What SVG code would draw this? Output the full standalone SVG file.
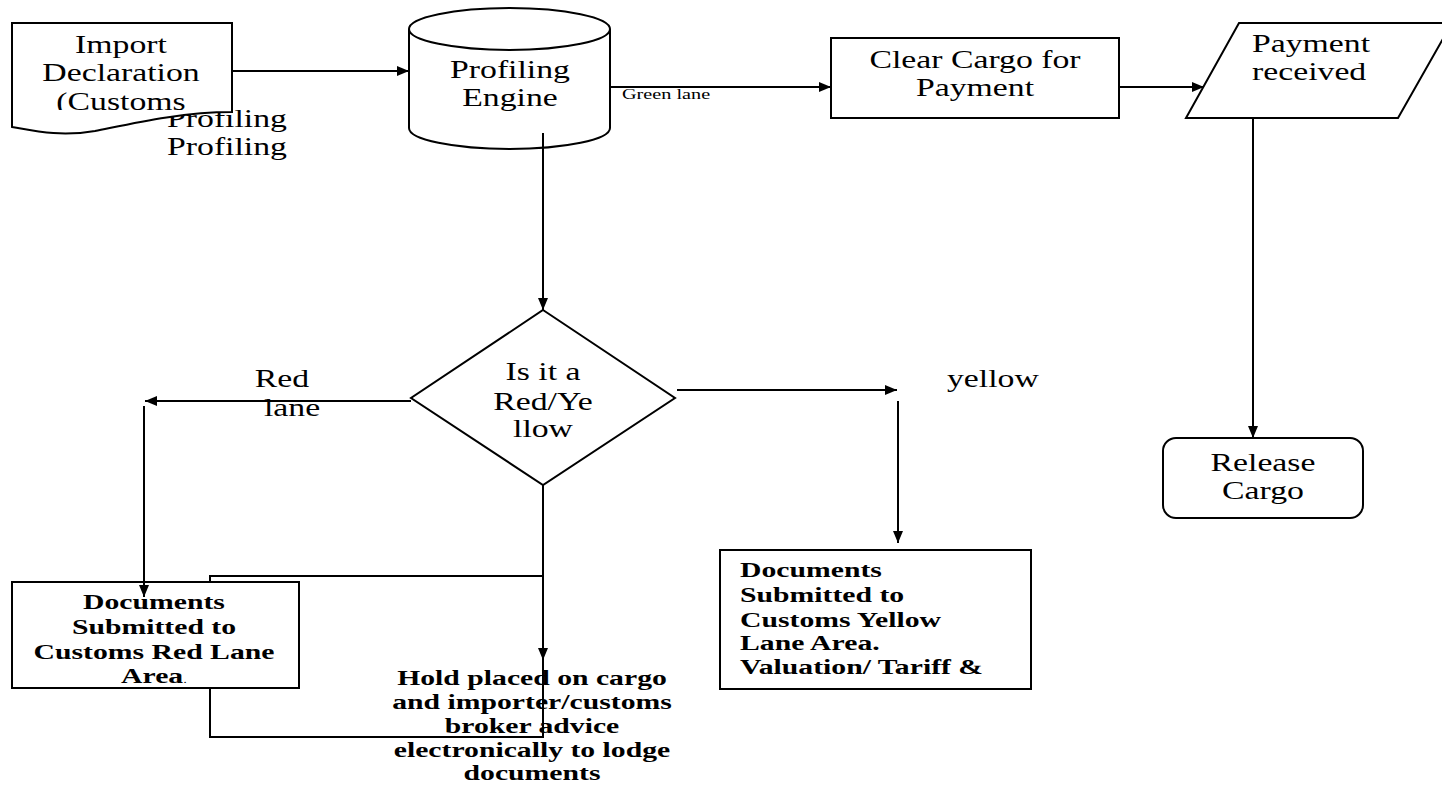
<svg xmlns="http://www.w3.org/2000/svg" width="1442" height="785" viewBox="0 0 1442 785">
<style>
.t{font-family:"Liberation Serif","Times New Roman",serif;font-size:25px;fill:#000}
.b{font-family:"Liberation Serif","Times New Roman",serif;font-size:22px;font-weight:bold;fill:#000}
.s{font-family:"Liberation Serif","Times New Roman",serif;font-size:15px;fill:#000}
.m{text-anchor:middle}
.shape{fill:#fff;stroke:#000;stroke-width:2}
.ln{fill:none;stroke:#000;stroke-width:2}
</style>
<defs>
<marker id="ah" markerUnits="userSpaceOnUse" markerWidth="13" markerHeight="11" refX="12" refY="5" orient="auto">
<path d="M0,0 L12,5 L0,10 Z" fill="#000"/>
</marker>
<clipPath id="docclip"><rect x="12" y="23" width="220" height="87"/></clipPath>
<clipPath id="redclip"><rect x="12" y="582" width="287" height="104"/></clipPath>
</defs>

<g id="free-labels">
<text class="t m" transform="translate(227,127) scale(1.35,1)">Profiling</text>
<text class="t m" transform="translate(227,155) scale(1.35,1)">Profiling</text>
</g>

<g id="import-declaration">
<path class="shape" d="M12,23 H232 V112 C180,112 130,124 95,131 C60,137 35,131 12,127 Z"/>
<g clip-path="url(#docclip)">
<text class="t m" transform="translate(121,53) scale(1.35,1)">Import</text>
<text class="t m" transform="translate(121,81) scale(1.35,1)">Declaration</text>
<text class="t m" transform="translate(121,110) scale(1.35,1)">(Customs</text>
</g>
</g>

<g id="profiling-engine">
<path class="shape" d="M409,29 V128 A100.5,21 0 0 0 610,128 V29"/>
<ellipse class="shape" cx="509.5" cy="29" rx="100.5" ry="21"/>
<text class="t m" transform="translate(510,78) scale(1.35,1)">Profiling</text>
<text class="t m" transform="translate(510,106) scale(1.35,1)">Engine</text>
</g>

<g id="clear-cargo">
<rect class="shape" x="831" y="38" width="288" height="80"/>
<text class="t m" transform="translate(975,68) scale(1.35,1)">Clear Cargo for</text>
<text class="t m" transform="translate(975,96) scale(1.35,1)">Payment</text>
</g>

<g id="payment-received">
<path class="shape" d="M1239,23 H1452 L1398,118 H1186 Z"/>
<text class="t" transform="translate(1252,52) scale(1.35,1)">Payment</text>
<text class="t" transform="translate(1252,80) scale(1.35,1)">received</text>
</g>

<g id="release-cargo">
<rect class="shape" x="1163" y="438" width="200" height="80" rx="13" ry="13"/>
<text class="t m" transform="translate(1263,471) scale(1.35,1)">Release</text>
<text class="t m" transform="translate(1263,499) scale(1.35,1)">Cargo</text>
</g>

<g id="decision">
<path class="shape" d="M543,310 L675,398 L543,485 L411,398 Z"/>
<text class="t m" transform="translate(543,380) scale(1.35,1)">Is it a</text>
<text class="t m" transform="translate(543,410) scale(1.35,1)">Red/Ye</text>
<text class="t m" transform="translate(543,437) scale(1.35,1)">llow</text>
</g>

<g id="red-lane-docs">
<rect class="shape" x="12" y="582" width="287" height="106"/>
<g clip-path="url(#redclip)">
<text class="b m" transform="translate(154,609) scale(1.35,1)">Documents</text>
<text class="b m" transform="translate(154,634) scale(1.35,1)">Submitted to</text>
<text class="b m" transform="translate(154,659) scale(1.35,1)">Customs Red Lane</text>
<text class="b m" transform="translate(154,683) scale(1.35,1)">Area<tspan style="font-size:11px;font-weight:normal">.</tspan></text>
</g>
</g>

<g id="yellow-lane-docs">
<rect class="shape" x="720" y="550" width="311" height="139"/>
<text class="b" transform="translate(740,577) scale(1.35,1)">Documents</text>
<text class="b" transform="translate(740,602) scale(1.35,1)">Submitted to</text>
<text class="b" transform="translate(740,627) scale(1.35,1)">Customs Yellow</text>
<text class="b" transform="translate(740,650) scale(1.35,1)">Lane Area.</text>
<text class="b" transform="translate(740,674) scale(1.35,1)">Valuation/ Tariff &amp;</text>
</g>

<g id="hold-placed">
<text class="b m" transform="translate(532,685) scale(1.35,1)">Hold placed on cargo</text>
<text class="b m" transform="translate(532,709) scale(1.35,1)">and importer/customs</text>
<text class="b m" transform="translate(532,733) scale(1.35,1)">broker advice</text>
<text class="b m" transform="translate(532,757) scale(1.35,1)">electronically to lodge</text>
<text class="b m" transform="translate(532,780) scale(1.35,1)">documents</text>
</g>

<g id="connectors">
<line class="ln" x1="232" y1="71" x2="409" y2="71" marker-end="url(#ah)"/>
<line class="ln" x1="610" y1="87" x2="831" y2="87" marker-end="url(#ah)"/>
<line class="ln" x1="1119" y1="87" x2="1204" y2="87" marker-end="url(#ah)"/>
<line class="ln" x1="543" y1="133" x2="543" y2="310" marker-end="url(#ah)"/>
<line class="ln" x1="1253" y1="118" x2="1253" y2="438" marker-end="url(#ah)"/>
<line class="ln" x1="411" y1="401" x2="145" y2="401" marker-end="url(#ah)"/>
<line class="ln" x1="144" y1="406" x2="144" y2="597" marker-end="url(#ah)"/>
<line class="ln" x1="677" y1="390" x2="897" y2="390" marker-end="url(#ah)"/>
<line class="ln" x1="898" y1="401" x2="898" y2="543" marker-end="url(#ah)"/>
<line class="ln" x1="543" y1="485" x2="543" y2="660" marker-end="url(#ah)"/>
<path class="ln" d="M210,582 V576 H543 M210,688 V737 H543 V660"/>
<text class="s" transform="translate(622,99) scale(1.35,1)">Green lane</text>
<text class="t m" transform="translate(282,387) scale(1.35,1)">Red</text>
<text class="t m" transform="translate(292,416) scale(1.35,1)">lane</text>
<text class="t" transform="translate(947,387) scale(1.35,1)">yellow</text>
</g>
</svg>
